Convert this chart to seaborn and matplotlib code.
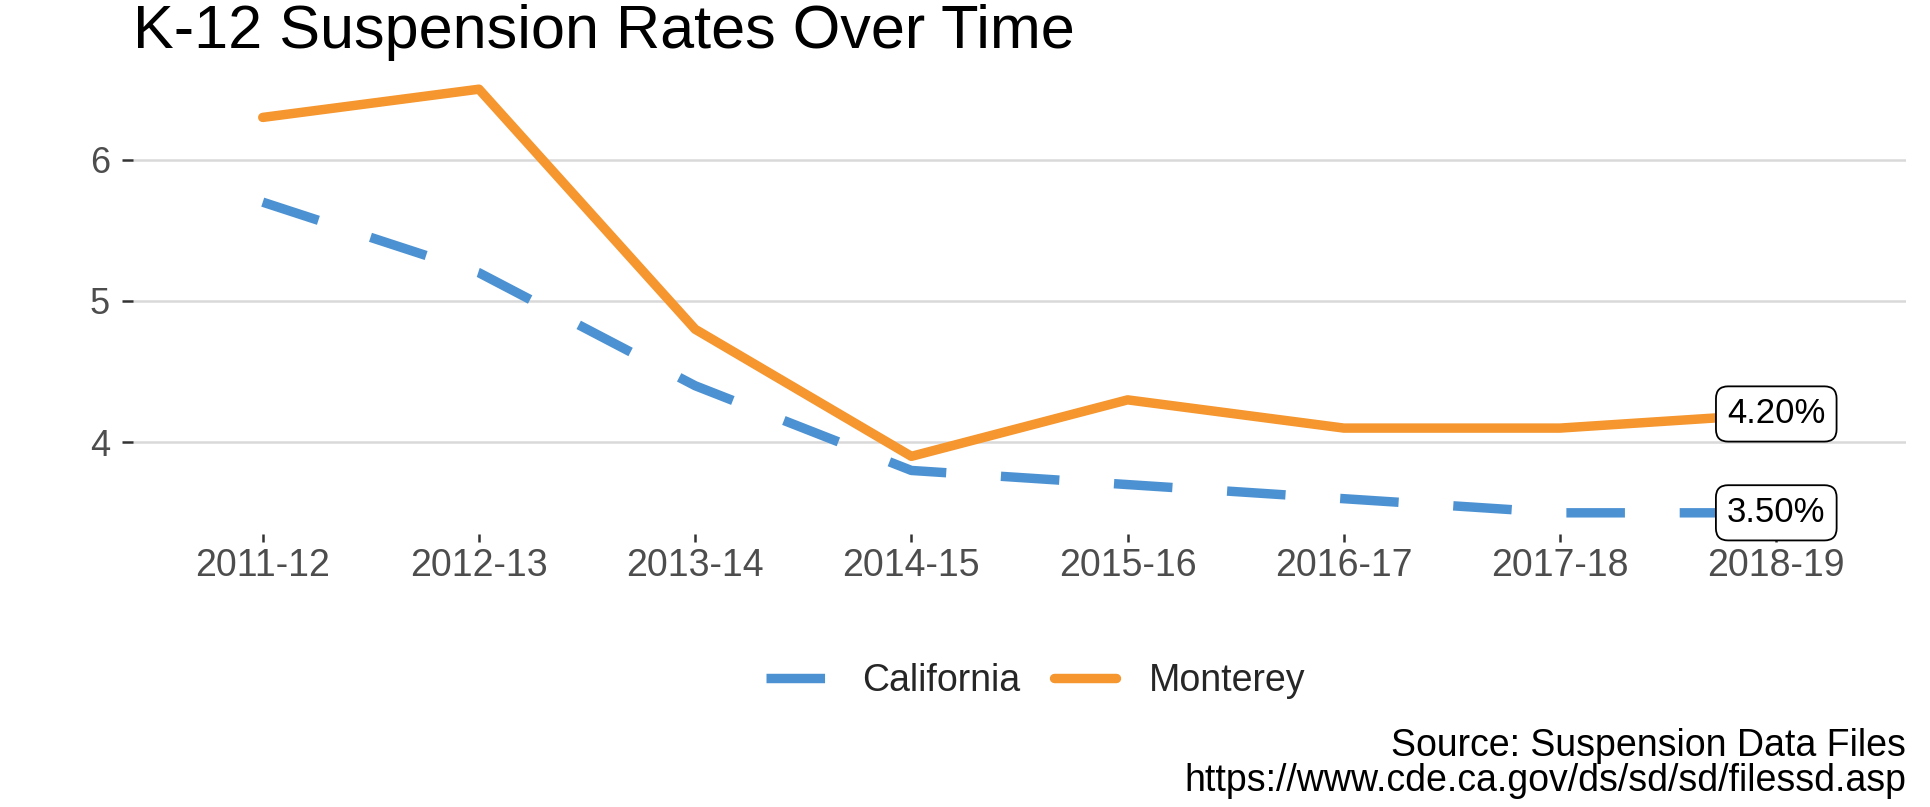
import matplotlib
matplotlib.use("Agg")
import matplotlib.pyplot as plt
import seaborn as sns
import pandas as pd

years = ["2011-12", "2012-13", "2013-14", "2014-15", "2015-16", "2016-17", "2017-18", "2018-19"]
california = [5.7, 5.2, 4.4, 3.8, 3.7, 3.6, 3.5, 3.5]
monterey = [6.3, 6.5, 4.8, 3.9, 4.3, 4.1, 4.1, 4.2]
regions = ["California", "Monterey"]
colors = {"California": "#4C92D3", "Monterey": "#F5962F"}
title = "K-12 Suspension Rates Over Time"
caption = "Source: Suspension Data Files\nhttps://www.cde.ca.gov/ds/sd/sd/filessd.asp"

df = pd.DataFrame({
    "year": years * 2,
    "rate": california + monterey,
    "region": ["California"] * len(years) + ["Monterey"] * len(years),
})

sns.set_theme(style="white")
plt.rcParams["font.family"] = ["Liberation Sans", "DejaVu Sans"]

W, H = 1931, 807
LW = 6.8
fig = plt.figure(figsize=(W / 100, H / 100), dpi=100)
ax = fig.add_axes([133 / W, 1 - 534 / H, (1906 - 133) / W, (534 - 68) / H])

sns.lineplot(data=df, x="year", y="rate", hue="region", style="region",
             hue_order=regions, style_order=regions, palette=colors,
             dashes={"California": (6.2, 5.8), "Monterey": ""},
             linewidth=LW, ax=ax, legend=True, sort=False)

ax.set_xlim(-0.6, len(years) - 0.4)
ax.set_ylim(3.35, 6.65)
ax.set_yticks([4, 5, 6])
ax.set_xlabel("")
ax.set_ylabel("")
for s in ax.spines.values():
    s.set_visible(False)
ax.grid(False)
ax.yaxis.grid(True, color="#D9D9D9", linewidth=1.8)
ax.set_axisbelow(True)
ax.tick_params(axis="y", length=8, width=1.8, color="#333333", pad=8.5,
               labelsize=26, labelcolor="#4D4D4D", left=True)
ax.tick_params(axis="x", length=6, width=1.8, color="#333333", pad=4,
               labelsize=27, labelcolor="#4D4D4D", bottom=True)

# end labels
for vals in (california, monterey):
    ax.text(len(years) - 1, vals[-1], f"{vals[-1]:.2f}%", ha="center", va="center",
            fontsize=25, color="black", zorder=10,
            bbox=dict(boxstyle="round,pad=0.32,rounding_size=0.35", facecolor="white",
                      edgecolor="black", linewidth=1.3))

# legend
handles, labels = ax.get_legend_handles_labels()
ax.get_legend().remove()
leg = fig.legend(handles, labels, loc="center", bbox_to_anchor=(1036 / W, 1 - 681 / H),
                 ncol=2, frameon=False, fontsize=27, handlelength=1.65,
                 handletextpad=0.9, columnspacing=0.9)
for line in leg.get_lines():
    line.set_linewidth(LW)

fig.text(133 / W, 1 - 48 / H, title, ha="left", va="baseline", fontsize=44, color="black")
fig.text(1906 / W, 1 - 799 / H, caption, ha="right", va="bottom", fontsize=27,
         color="black", multialignment="right", linespacing=0.95)

fig.savefig("out.png", dpi=100)
